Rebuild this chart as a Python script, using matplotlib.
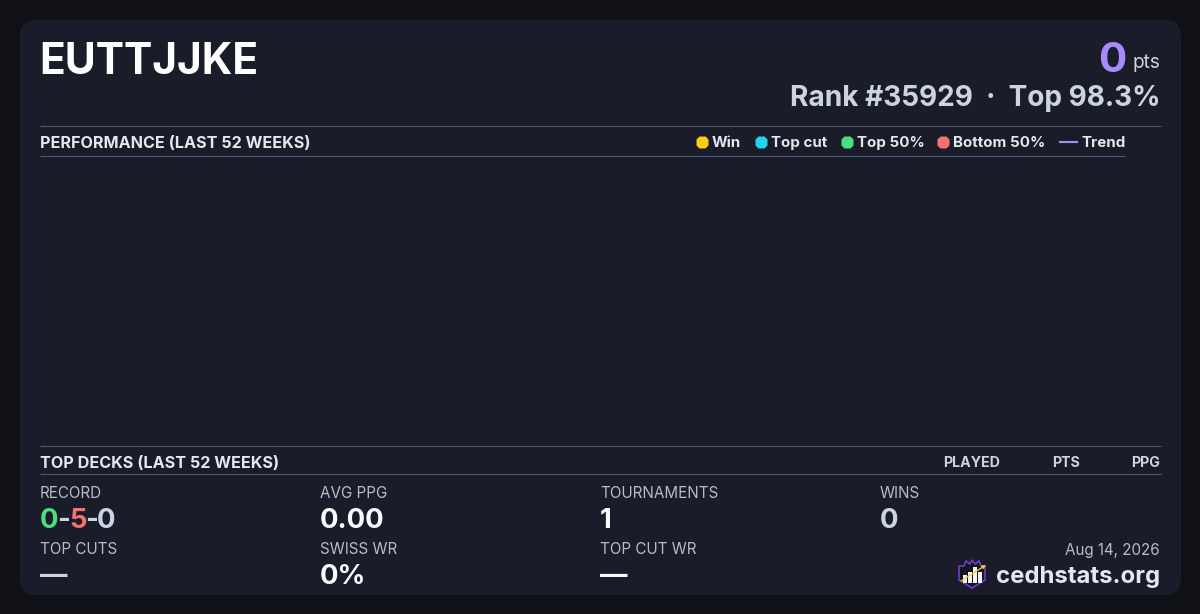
import matplotlib
matplotlib.use("Agg")
import matplotlib.pyplot as plt
from matplotlib.patches import FancyBboxPatch, Polygon, Rectangle

plt.rcParams['font.family'] = ['Inter', 'DejaVu Sans']

# values
player = "EUTTJJKE"
points = "0"
rank_text = "Rank #35929  ·  Top 98.3%"
legend_names = ["Win", "Top cut", "Top 50%", "Bottom 50%"]
legend_colors = ["#facc15", "#22d3ee", "#4ade80", "#f87171"]
legend_x = [702, 761, 847, 943]
legend_text_x = [712, 771, 857, 953]
deck_cols = ["PLAYED", "PTS", "PPG"]
deck_cols_x = [1000, 1080, 1160]
stat_labels = ["RECORD", "AVG PPG", "TOURNAMENTS", "WINS", "TOP CUTS", "SWISS WR", "TOP CUT WR"]
stat_values = [None, "0.00", "1", "0", "—", "0%", "—"]
stat_colors = [None, "#f8fafc", "#f8fafc", "#cbd5e1", "#cbd5e1", "#f8fafc", "#f8fafc"]
stat_x = [40, 320, 600, 880, 40, 320, 600]
stat_label_y = [497.5, 497.5, 497.5, 497.5, 553.5, 553.5, 553.5]
stat_value_y = [528, 528, 528, 528, 584, 584, 584]
record = ["0", "-", "5", "-", "0"]
record_colors = ["#4ade80", "#cbd5e1", "#f87171", "#cbd5e1", "#cbd5e1"]

fig = plt.figure(figsize=(12, 6.14), dpi=100, facecolor="#0f1117")
ax = fig.add_axes([0, 0, 1, 1])
ax.set_xlim(0, 1200)
ax.set_ylim(614, 0)
ax.axis("off")

ax.add_patch(FancyBboxPatch((20, 20), 1161, 575, boxstyle="round,pad=0,rounding_size=16",
                            mutation_scale=1, fc="#1a1d29", ec="none"))


def txt(x, y, s, size, color, weight="normal", ha="left"):
    # size in px, y is the baseline
    return ax.text(x, y, s, fontsize=size * 0.72, color=color, fontweight=weight,
                   ha=ha, va="baseline")


txt(39.5, 73.5, player, 42.5, "#ffffff", "bold")
txt(1126.5, 72.5, points, 42, "#a78bfa", "bold", "right")
txt(1160, 68, "pts", 19, "#cbd5e1", "normal", "right")
txt(1160, 106, rank_text, 28, "#cbd5e1", "bold", "right")

# section rules
line = "#4a5a78"
for x0, x1, y in [(40, 1161, 126), (40, 1125, 156), (40, 1161, 446), (40, 1161, 474)]:
    ax.plot([x0, x1], [y, y], color=line, lw=0.8, solid_capstyle="butt")

txt(40, 148, "PERFORMANCE (LAST 52 WEEKS)", 16.15, "#e2e8f0", "bold")
txt(40, 468, "TOP DECKS (LAST 52 WEEKS)", 16.15, "#e2e8f0", "bold")

for n, c, x, tx in zip(legend_names, legend_colors, legend_x, legend_text_x):
    ax.plot([x], [142], marker="8", ms=10, color=c, mec="none", ls="none")
    txt(tx, 147, n, 15.1, "#e2e8f0", "bold")
ax.plot([1059, 1078], [142, 142], color="#a78bfa", lw=1.5, solid_capstyle="butt")
txt(1081, 147, "Trend", 15.1, "#e2e8f0", "bold")

for n, x in zip(deck_cols, deck_cols_x):
    txt(x, 467, n, 14.2, "#cbd5e1", "bold", "right")

for lab, val, col, x, ly, vy in zip(stat_labels, stat_values, stat_colors, stat_x,
                                    stat_label_y, stat_value_y):
    txt(x, ly, lab, 15.2, "#b4bdcc")
    if val is not None:
        txt(x, vy, val, 27.5, col, "bold")

# record is coloured part by part
x = 40
for s, c in zip(record, record_colors):
    t = txt(x, 528, s, 27.5, c, "bold")
    x = t.get_window_extent(fig.canvas.get_renderer()).x1 - 1.3

txt(1160, 555, "Aug 14, 2026", 15.2, "#b4bdcc", "normal", "right")
txt(1160, 583, "cedhstats.org", 23.9, "#e2e8f0", "bold", "right")

# logo
shield = [(959, 566), (964, 566), (966, 561), (970, 564), (972, 560), (975, 564), (979, 561),
          (981, 566), (985, 566), (985, 580), (972, 588), (959, 580)]
ax.add_patch(Polygon(shield, closed=True, fc="#14151f", ec="#6d3fc4", lw=1.2))
for bx, by, bw in [(962.5, 575, 4), (968, 572, 3.5), (973, 567, 4), (978, 572, 4)]:
    ax.add_patch(Rectangle((bx, by), bw, 583 - by, fc="#f1f5f9", ec="none"))
ax.annotate("", xy=(986, 565), xytext=(961, 581),
            arrowprops=dict(arrowstyle="-|>", color="#facc15", lw=0.9, mutation_scale=5,
                            shrinkA=0, shrinkB=0))

fig.savefig("out.png", dpi=100, facecolor=fig.get_facecolor())
